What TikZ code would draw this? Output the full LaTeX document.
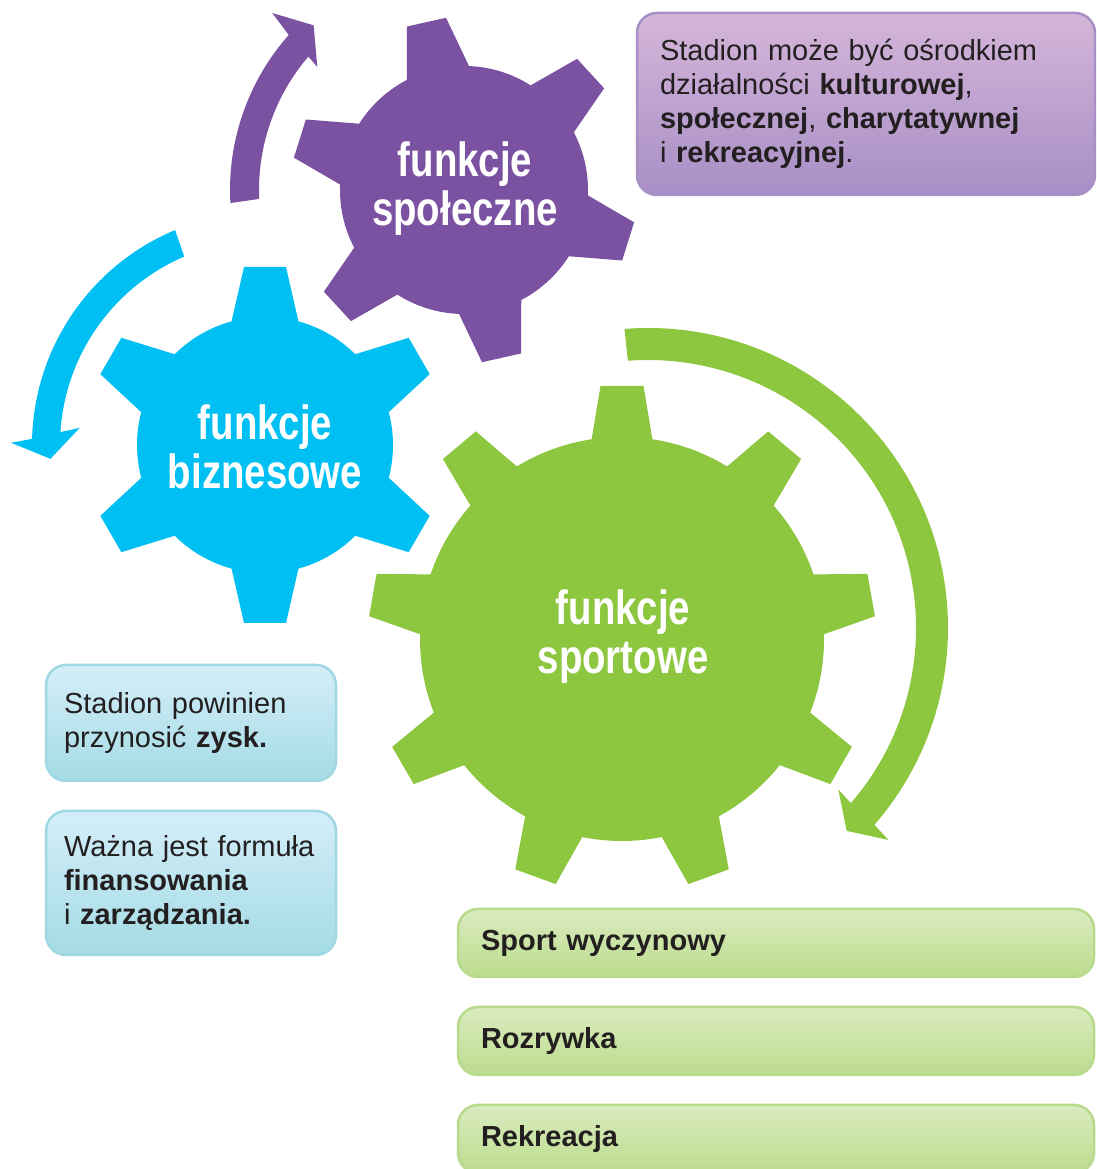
\documentclass[tikz,border=0pt]{standalone}
\usepackage{fontspec}
\setmainfont{Liberation Sans}
\newfontfamily\gearfont[FakeStretch=0.8]{Liberation Sans}
\usetikzlibrary{positioning}

\definecolor{spolcol}{HTML}{7B52A1}
\definecolor{bizcol}{HTML}{00C0F3}
\definecolor{sportcol}{HTML}{8DC63F}
\definecolor{ink}{HTML}{231F20}
\definecolor{lilatop}{HTML}{D5B6DA}
\definecolor{lilabot}{HTML}{A78EC5}
\definecolor{lilaline}{HTML}{A690C6}
\definecolor{bluetop}{HTML}{D4EEF9}
\definecolor{bluebot}{HTML}{A4DBE5}
\definecolor{blueline}{HTML}{9FD8E2}
\definecolor{greentop}{HTML}{DAEBC0}
\definecolor{greenbot}{HTML}{BCDC8C}
\definecolor{greenline}{HTML}{B8DA8C}

\tikzset{
	gearlabel/.style={text=white, align=center, inner sep=0,
		font=\gearfont\bfseries\fontsize{48}{49}\selectfont},
	infobox/.style={anchor=north west, rounded corners=20pt, line width=2.5pt,
		outer sep=0, inner xsep=23pt, inner ysep=0, text=ink, align=left,
		font=\fontsize{29}{34}\selectfont},
	kulturbox/.style={infobox, draw=lilaline, top color=lilatop, bottom color=lilabot},
	bizbox/.style={infobox, inner xsep=18pt, draw=blueline, top color=bluetop, bottom color=bluebot},
	sportbox/.style={infobox, draw=greenline, top color=greentop, bottom color=greenbot,
		font=\bfseries\fontsize{29}{34}\selectfont}
}

\begin{document}
\begin{tikzpicture}[x=1pt, y=1pt]
	\useasboundingbox (0,0) rectangle (1096,1169);
	\clip (0,0) rectangle (1096,1169);

	% arrows round the gears
	\begin{scope}[shift={(464,979)}]
		\fill[spolcol] (183.2:234) arc[start angle=183.2, end angle=138.5, radius=234]
			-- (137.3:261) -- (132.4:223) -- (140:191.5) -- (139.4:205)
			arc[start angle=139.4, end angle=182.5, radius=205] -- cycle;
	\end{scope}
	\begin{scope}[shift={(265,724)}]
		\fill[bizcol] (113.2:205) arc[start angle=113.2, end angle=176.4, radius=205]
			-- (174.7:186) -- (183.7:215) -- (179.5:254) -- (178.5:233)
			arc[start angle=178.5, end angle=112.7, radius=233] -- cycle;
	\end{scope}
	\begin{scope}[shift={(648,541)}]
		\fill[sportcol] (94.5:300) arc[start angle=94.5, end angle=-41, radius=300]
			-- (-41.4:320.5) -- (-45.6:284) -- (-40.3:249.5) -- (-40.8:268)
			arc[start angle=-40.8, end angle=94.3, radius=268] -- cycle;
	\end{scope}

	% gears
	\fill[spolcol] (464,979) circle[radius=124];
	\foreach \i in {0,...,5}
		\fill[spolcol, shift={(464,979)}, rotate=102.6+60*\i]
			(104,-35.5) -- (172,-20) -- (172,20) -- (104,35.5) -- cycle;
	\fill[bizcol] (265,724) circle[radius=128];
	\foreach \i in {0,...,5}
		\fill[bizcol, shift={(265,724)}, rotate=90+60*\i]
			(108,-37) -- (178,-21) -- (178,21) -- (108,37) -- cycle;
	\fill[sportcol] (622,530) circle[radius=202];
	\foreach \i in {0,...,8}
		\fill[sportcol, shift={(622,530)}, rotate=90+40*\i]
			(181,-33.5) -- (253,-21.5) -- (253,21.5) -- (181,33.5) -- cycle;

	\node[gearlabel] (spol) at (465,980) {funkcje\\społeczne};
	\node[gearlabel] (biz) at (265,722) {funkcje\\biznesowe};
	\node[gearlabel] (sport) at (623,532) {funkcje\\sportowe};

	% boxes
	\node[kulturbox, text width=412pt, minimum height=182pt] (kultura) at (637,1156)
		{Stadion może być ośrodkiem\\ działalności \textbf{kulturowej},\\
		\textbf{społecznej}, \textbf{charytatywnej}\\ i \textbf{rekreacyjnej}.};
	\node[bizbox, text width=254pt, minimum height=116pt] (zysk) at (46,504)
		{Stadion powinien\\ przynosić \textbf{zysk.}};
	\node[bizbox, text width=254pt, minimum height=144pt, below=30pt of zysk] (finanse)
		{Ważna jest formuła\\ \textbf{finansowania}\\ i \textbf{zarządzania.}};
	\node[sportbox, text width=590pt, minimum height=68pt] (wyczyn) at (458,260) {Sport wyczynowy};
	\node[sportbox, text width=590pt, minimum height=68pt, below=30pt of wyczyn] (rozrywka) {Rozrywka};
	\node[sportbox, text width=590pt, minimum height=68pt, below=30pt of rozrywka] (rekreacja) {Rekreacja};
\end{tikzpicture}
\end{document}
